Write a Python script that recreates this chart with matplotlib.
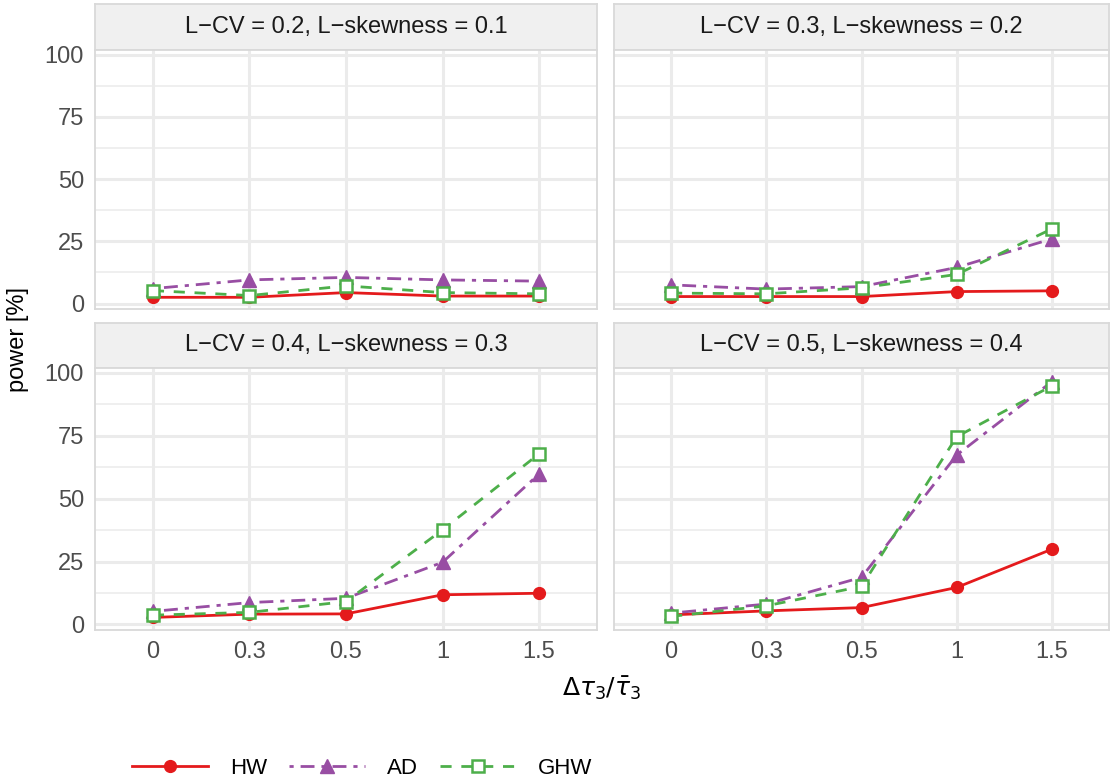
import numpy as np
import matplotlib.pyplot as plt
from matplotlib.lines import Line2D

plt.rcParams["font.family"] = ["Liberation Sans", "DejaVu Sans"]

# x categories (discrete)
x_labels = ["0", "0.3", "0.5", "1", "1.5"]

panel_titles = [
    "L\u2212CV = 0.2, L\u2212skewness = 0.1",
    "L\u2212CV = 0.3, L\u2212skewness = 0.2",
    "L\u2212CV = 0.4, L\u2212skewness = 0.3",
    "L\u2212CV = 0.5, L\u2212skewness = 0.4",
]

# power [%] per panel
hw = [
    [2.5, 2.5, 4.4, 3.0, 3.0],
    [2.8, 2.8, 2.8, 4.8, 5.1],
    [2.8, 4.1, 4.2, 11.8, 12.4],
    [3.8, 5.4, 6.7, 14.7, 29.9],
]
ad = [
    [6.0, 9.5, 10.5, 9.5, 9.0],
    [7.5, 5.8, 6.8, 14.5, 26.0],
    [5.2, 8.7, 10.4, 24.7, 59.8],
    [4.5, 8.1, 18.7, 67.3, 96.5],
]
ghw = [
    [5.2, 3.2, 7.1, 4.4, 3.9],
    [4.2, 3.9, 6.3, 11.7, 30.0],
    [3.7, 4.8, 9.1, 37.6, 67.8],
    [3.2, 7.4, 15.1, 74.6, 94.8],
]

red = "#e41a1c"
purple = "#984ea3"
green = "#4daf4a"
border = "#d9d9d9"
grid = "#ebebeb"
FS = 17

W, H = 1110, 782
fig = plt.figure(figsize=(W / 100, H / 100), dpi=100)


def px_axes(x0, y0, x1, y1):
    return fig.add_axes([x0 / W, 1 - y1 / H, (x1 - x0) / W, (y1 - y0) / H])


cols = [(95, 597), (614, 1109)]
rows = [(4, 50, 309), (323, 368, 630)]

xpos = np.arange(1, len(x_labels) + 1)

for i in range(4):
    r, c = divmod(i, 2)
    x0, x1 = cols[c]
    s0, p0, p1 = rows[r]

    # strip
    st = px_axes(x0, s0, x1, p0)
    st.set_facecolor("#f0f0f0")
    st.set_xticks([])
    st.set_yticks([])
    for sp in st.spines.values():
        sp.set_color(border)
        sp.set_linewidth(1.3)
    st.text(0.5, 0.5, panel_titles[i], ha="center", va="center",
            fontsize=FS, color="#1a1a1a", transform=st.transAxes)

    ax = px_axes(x0, p0, x1, p1)
    ax.set_xlim(0.4, 5.6)
    ax.set_ylim(-2.2, 101.9)
    ax.set_yticks([0, 25, 50, 75, 100])
    ax.set_yticks([12.5, 37.5, 62.5, 87.5], minor=True)
    ax.set_xticks(xpos)
    ax.grid(True, which="major", color=grid, linewidth=2.2)
    ax.grid(True, which="minor", axis="y", color=grid, linewidth=1.1)
    ax.set_axisbelow(True)
    for sp in ax.spines.values():
        sp.set_color(border)
        sp.set_linewidth(1.3)
    ax.tick_params(which="both", length=0, labelsize=FS, labelcolor="#4d4d4d", pad=8)
    if r == 1:
        ax.set_xticklabels(x_labels)
    else:
        ax.set_xticklabels([])
    if c == 1:
        ax.set_yticklabels([])

    ax.plot(xpos, hw[i], color=red, lw=2, marker="o", ms=8.5, zorder=3)
    ax.plot(xpos, ad[i], color=purple, lw=2, dashes=(1.5, 2.5, 5, 2.5),
            marker="^", ms=10.5, zorder=4)
    ax.plot(xpos, ghw[i], color=green, lw=2, dashes=(4, 3.5),
            marker="s", ms=8, mfc="white", mec=green, mew=1.8, zorder=5)

fig.text(18 / W, 1 - 340 / H, "power [%]", rotation=90, ha="center", va="center",
         fontsize=FS)
fig.text(602 / W, 1 - 688 / H, r"$\Delta\tau_3/\bar{\tau}_3$", ha="center", va="center",
         fontsize=18, math_fontfamily="dejavusans")

handles = [
    Line2D([], [], color=red, lw=2, marker="o", ms=8.5),
    Line2D([], [], color=purple, lw=2, dashes=(1.5, 2.5, 5, 2.5), marker="^", ms=10.5),
    Line2D([], [], color=green, lw=2, dashes=(4, 3.5), marker="s", ms=8,
           mfc="white", mec=green, mew=1.8),
]
fig.legend(handles, ["HW", "AD", "GHW"], loc="center left",
           bbox_to_anchor=(112 / W, 1 - 768 / H), ncol=3, frameon=False,
           fontsize=16, handlelength=3.4, handletextpad=1.0, columnspacing=1.0,
           numpoints=1)

fig.savefig("out.png", dpi=100)
